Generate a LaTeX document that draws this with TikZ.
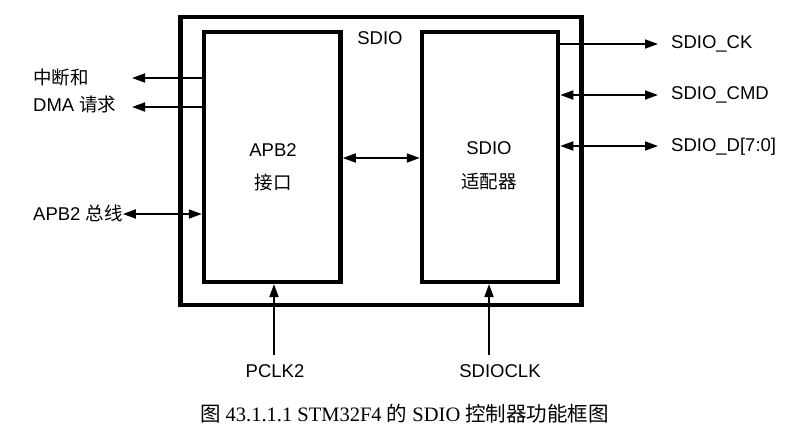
\documentclass[tikz,border=0pt]{standalone}
\usepackage{fontspec}
\setmainfont{Liberation Serif}
\setsansfont{Liberation Sans}
\newfontfamily\cjk{Noto Sans CJK SC}
\usetikzlibrary{arrows.meta}
\begin{document}
\begin{tikzpicture}[x=1pt,y=-1pt,
  thickbox/.style={draw,line width=4.5pt,minimum width=#1,minimum height=250pt,inner sep=0pt},
  lbl/.style={font=\sffamily\fontsize{18.5}{22}\selectfont,inner sep=0pt},
  conn/.style={line width=1.8pt,-{Triangle[length=13pt,width=9pt]}},
  conn2/.style={line width=1.8pt,{Triangle[length=13pt,width=9pt]}-{Triangle[length=13pt,width=9pt]}}]
\useasboundingbox (0,0) rectangle (796,429);
% boxes
\node[draw,line width=4.5pt,minimum width=401pt,minimum height=288pt,inner sep=0pt] (outer) at (381,161) {};
\node[thickbox=136.5pt] (apb) at (272.3,156.8) {};
\node[thickbox=136pt] (sd) at (490,156.8) {};
\node[lbl] (title) at (380,38) {SDIO};
\node[lbl] (apbt) at (273,150) {APB2};
\node[lbl] (apbc) at (273,182) {\cjk 接口};
\node[lbl] (sdt) at (489,148) {SDIO};
\node[lbl] (sdc) at (489,182) {\cjk 适配器};
% left side
\node[lbl,anchor=west] (intl) at (33,77) {\cjk 中断和};
\node[lbl,anchor=west] (dmal) at (33,104) {DMA {\cjk 请求}};
\node[lbl,anchor=west] (busl) at (33,213) {APB2 {\cjk 总线}};
\coordinate (i1) at (132,78);
\coordinate (i2) at (132,107);
\draw[conn] (apb.west |- i1) -- (i1);
\draw[conn] (apb.west |- i2) -- (i2);
\draw[conn2] (busl.east |- 0,214) -- (apb.west |- 0,214);
% middle
\draw[conn2] (apb.east |- 0,158) -- (sd.west |- 0,158);
% right side
\node[lbl,anchor=west] (ck) at (671,44) {SDIO\_CK};
\node[lbl,anchor=west] (cmd) at (671,95) {SDIO\_CMD};
\node[lbl,anchor=west] (dat) at (671,147) {SDIO\_D[7:0]};
\coordinate (r1) at (658,44);
\coordinate (r2) at (658,95);
\coordinate (r3) at (658,146);
\draw[conn] (sd.east |- r1) -- (r1);
\draw[conn2] (sd.east |- r2) -- (r2);
\draw[conn2] (sd.east |- r3) -- (r3);
% bottom
\node[lbl] (pclk) at (275,371) {PCLK2};
\node[lbl] (sdclk) at (500,371) {SDIOCLK};
\coordinate (b1) at (274,355);
\coordinate (b2) at (489,355);
\draw[conn] (b1) -- (apb.south -| b1);
\draw[conn] (b2) -- (sd.south -| b2);
% caption
\node[inner sep=0pt,font=\fontsize{20.5}{24}\selectfont] (cap) at (404.5,414) {{\cjk 图} 43.1.1.1 STM32F4 {\cjk 的} SDIO {\cjk 控制器功能框图}};
\end{tikzpicture}
\end{document}
